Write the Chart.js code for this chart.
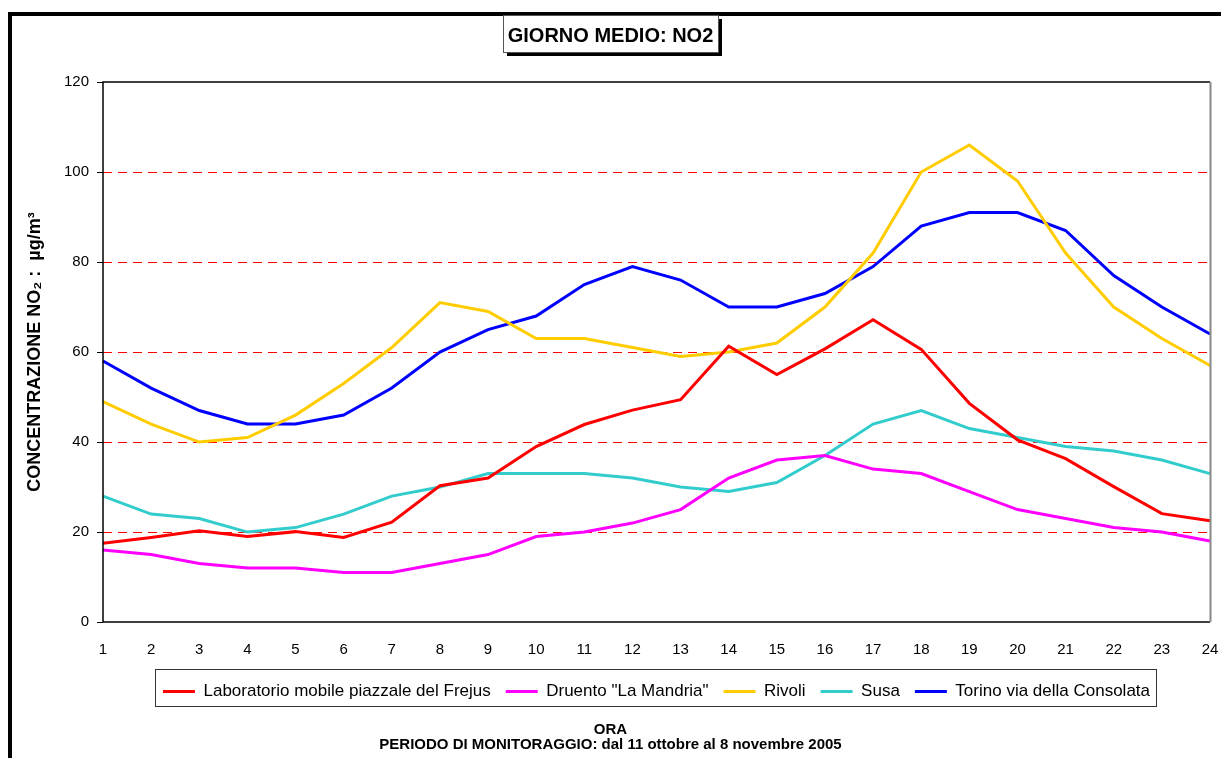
<!DOCTYPE html>
<html>
<head>
<meta charset="utf-8">
<script src="https://cdn.jsdelivr.net/npm/chart.js"></script>
<style>
  body { margin: 0; background: #fff; }
  #box { width: 1221px; height: 758px; }
</style>
</head>
<body>
<div id="box"><canvas id="graficoNO2"></canvas></div>
<script>
  const ore = ['1','2','3','4','5','6','7','8','9','10','11','12','13','14','15','16','17','18','19','20','21','22','23','24'];
  const frejus = [17.5, 18.8, 20.3, 19.0, 20.1, 18.8, 22.2, 30.3, 32.0, 39.0, 43.9, 47.1, 49.4, 61.3, 55.0, 60.7, 67.2, 60.6, 48.6, 40.5, 36.3, 30.1, 24.1, 22.5];
  const druento = [16, 15, 13, 12, 12, 11, 11, 13, 15, 19, 20, 22, 25, 32, 36, 37, 34, 33, 29, 25, 23, 21, 20, 18];
  const rivoli = [49, 44, 40, 41, 46, 53, 61, 71, 69, 63, 63, 61, 59, 60, 62, 70, 82, 100, 106, 98, 82, 70, 63, 57];
  const susa = [28, 24, 23, 20, 21, 24, 28, 30, 33, 33, 33, 32, 30, 29, 31, 37, 44, 47, 43, 41, 39, 38, 36, 33];
  const torino = [58, 52, 47, 44, 44, 46, 52, 60, 65, 68, 75, 79, 76, 70, 70, 73, 79, 88, 91, 91, 87, 77, 70, 64];
  const yTicks = [0, 20, 40, 60, 80, 100, 120];

  const FONT = 'Arial, "Liberation Sans", sans-serif';

  // cornice, riquadro del titolo, bordo dell'area e della legenda
  const cornice = {
    id: 'cornice',
    beforeDraw(chart) {
      const c = chart.ctx;
      c.save();
      c.fillStyle = '#000';
      c.fillRect(8, 12, 1221, 4);
      c.fillRect(8, 12, 4, 758);

      c.font = 'bold 20px ' + FONT;
      const w = c.measureText(chart.options.plugins.title.text).width;
      const x0 = Math.round(611 - w / 2 - 5), bw = Math.round(w + 9);
      c.fillRect(x0 + 4, 19, bw, 37);
      c.fillStyle = '#fff';
      c.fillRect(x0, 15, bw, 37);
      c.strokeStyle = '#555';
      c.lineWidth = 1;
      c.strokeRect(x0 + 0.5, 15.5, bw, 37);
      c.restore();
    },
    afterDraw(chart) {
      const c = chart.ctx;
      const a = chart.chartArea;
      c.save();
      c.lineWidth = 1.5;
      c.strokeStyle = '#000';
      c.beginPath();
      c.moveTo(a.right, a.top);
      c.lineTo(a.left, a.top);
      c.lineTo(a.left, a.bottom);
      c.lineTo(a.right, a.bottom);
      c.stroke();
      c.strokeStyle = '#888';
      c.lineWidth = 2;
      c.beginPath();
      c.moveTo(a.right + 0.5, a.top);
      c.lineTo(a.right + 0.5, a.bottom);
      c.stroke();

      const lg = chart.legend;
      const hb = lg.legendHitBoxes;
      const l = hb[0].left - 8;
      const r = hb[hb.length - 1].left + hb[hb.length - 1].width + 6;
      c.lineWidth = 1;
      c.strokeStyle = '#333';
      c.strokeRect(Math.round(l) + 0.5, Math.round(lg.top) + 1.5, Math.round(r - l), 37);
      c.restore();
    }
  };

  const serie = (label, data, color) => ({
    label: label,
    data: data,
    borderColor: color,
    backgroundColor: color,
    borderWidth: 3,
    pointRadius: 0,
    tension: 0,
    fill: false
  });

  new Chart(document.getElementById('graficoNO2'), {
    type: 'line',
    data: {
      labels: ore,
      datasets: [
        serie('Laboratorio mobile piazzale del Frejus', frejus, '#FF0000'),
        serie('Druento "La Mandria"', druento, '#FF00FF'),
        serie('Rivoli', rivoli, '#FFCC00'),
        serie('Susa', susa, '#33CCCC'),
        serie('Torino via della Consolata', torino, '#0000FF')
      ]
    },
    options: {
      responsive: true,
      maintainAspectRatio: false,
      animation: false,
      layout: { padding: 0 },
      plugins: {
        title: {
          display: true,
          text: 'GIORNO MEDIO: NO2',
          color: '#000',
          font: { family: FONT, size: 20, weight: 'bold', lineHeight: 1.2 },
          padding: { top: 24, bottom: 34 }
        },
        subtitle: {
          display: true,
          position: 'bottom',
          text: ['ORA', 'PERIODO DI MONITORAGGIO: dal 11 ottobre al 8 novembre 2005'],
          color: '#000',
          font: { family: FONT, size: 15, weight: 'bold', lineHeight: 1.03 },
          padding: { top: 12, bottom: 5 }
        },
        legend: {
          position: 'bottom',
          fullSize: false,
          labels: {
            color: '#000',
            font: { family: FONT, size: 17 },
            boxWidth: 32,
            boxHeight: 3,
            padding: 15,
            generateLabels(chart) {
              return Chart.defaults.plugins.legend.labels.generateLabels(chart).map(it => {
                it.fillStyle = it.strokeStyle;
                it.lineWidth = 0;
                return it;
              });
            }
          }
        },
        tooltip: { enabled: false }
      },
      scales: {
        x: {
          offset: false,
          grid: { display: false, drawTicks: false },
          border: { display: false },
          ticks: {
            color: '#000',
            font: { family: FONT, size: 15 },
            padding: 19,
            autoSkip: false,
            maxRotation: 0
          },
          afterFit(s) {
            s.height = 46;
            s.paddingLeft = 0;
            s.paddingRight = 11;
          }
        },
        y: {
          min: 0,
          max: 120,
          afterBuildTicks(s) { s.ticks = yTicks.map(v => ({ value: v })); },
          grid: {
            color: ctx => (ctx.tick && (ctx.tick.value === 0 || ctx.tick.value === 120)) ? 'rgba(0,0,0,0)' : '#FF0000',
            lineWidth: 1,
            tickLength: 6,
            tickColor: '#000',
            tickBorderDash: []
          },
          border: { display: false, dash: [9, 6] },
          ticks: {
            color: '#000',
            font: { family: FONT, size: 15 },
            padding: 8
          },
          title: {
            display: true,
            text: 'CONCENTRAZIONE NO\u2082 :  \u00b5g/m\u00b3',
            color: '#000',
            font: { family: FONT, size: 18, weight: 'bold', lineHeight: 1.2 },
            padding: { top: 24, bottom: 0 }
          },
          afterFit(s) { s.width = 103; }
        }
      }
    },
    plugins: [cornice]
  });
</script>
</body>
</html>
